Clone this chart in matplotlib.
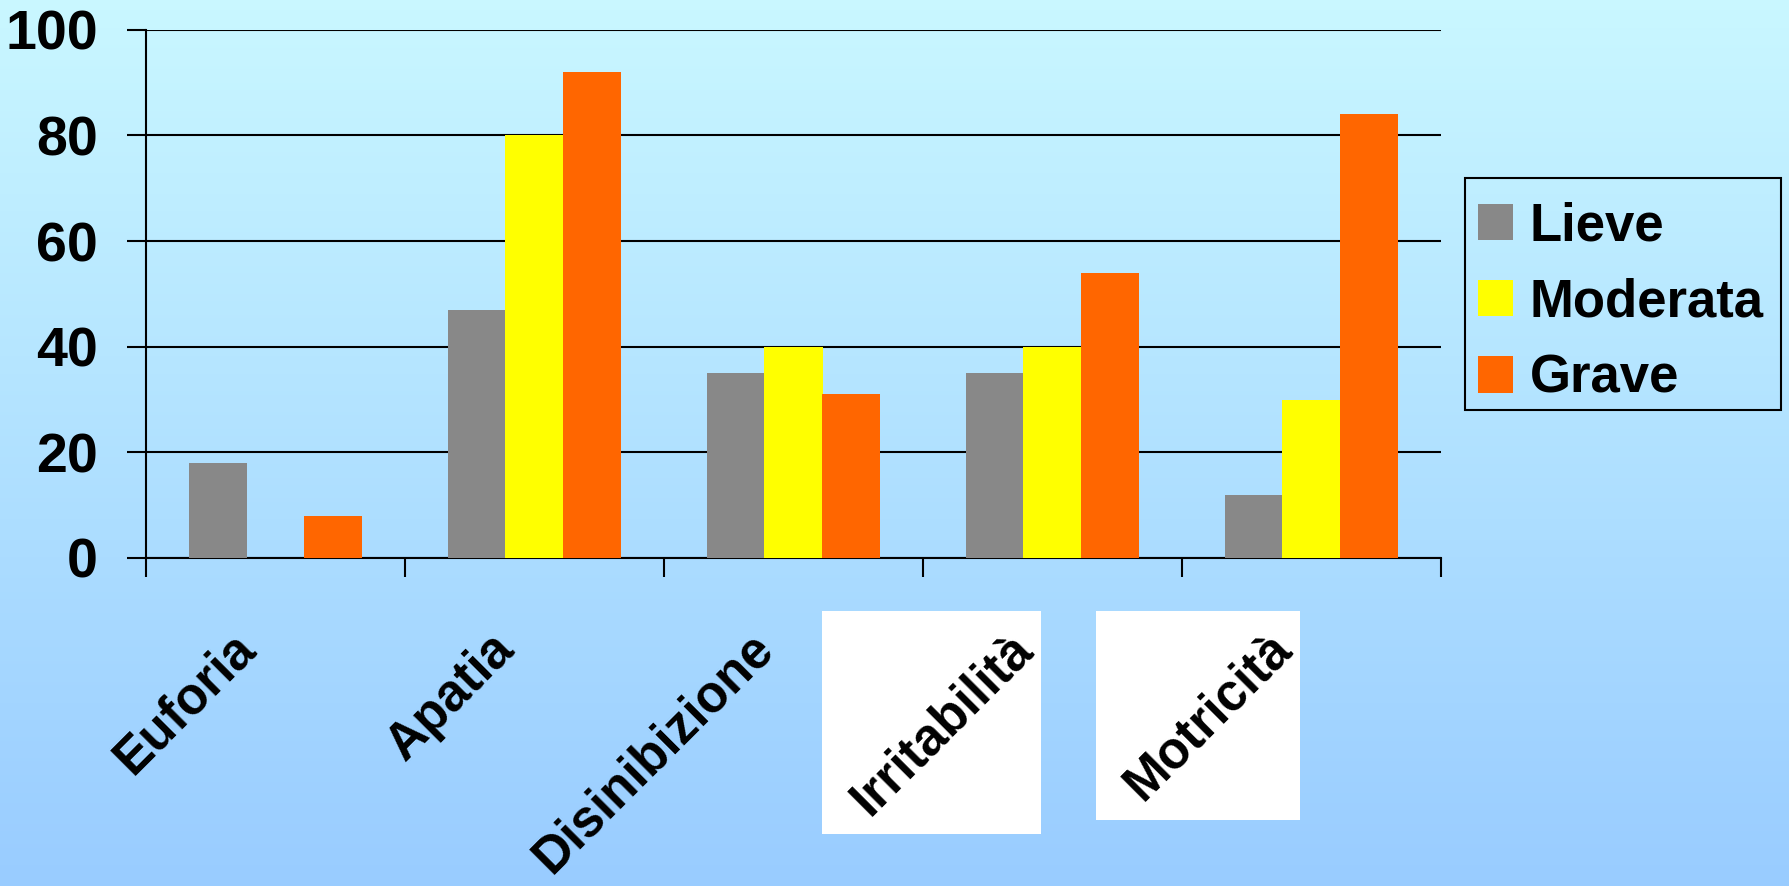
import matplotlib
matplotlib.use('Agg')
import matplotlib.pyplot as plt
from matplotlib.patches import Rectangle
import numpy as np

plt.rcParams['font.family'] = ['Liberation Sans', 'DejaVu Sans']
plt.rcParams['font.weight'] = 'bold'

# Behavioural symptoms by dementia severity (%)
categories = ['Euforia', 'Apatia', 'Disinibizione', 'Irritabilità', 'Motricità']
series_names = ['Lieve', 'Moderata', 'Grave']
lieve = [18, 47, 35, 35, 12]
moderata = [0, 80, 40, 40, 30]
grave = [8, 92, 31, 54, 84]
y_ticks = [0, 20, 40, 60, 80, 100]

colors = ['#888888', '#FFFF00', '#FF6600']

W, H = 1789, 886
fig = plt.figure(figsize=(W / 100, H / 100), dpi=100)

# vertical background gradient, light cyan on top to light blue at the bottom
bg = fig.add_axes([0, 0, 1, 1], zorder=-10)
top = np.array([0.79, 0.97, 1.0])
bottom = np.array([0.60, 0.80, 1.0])
t = np.linspace(0, 1, 256)[:, None]
grad = (top * (1 - t) + bottom * t)[:, None, :]
bg.imshow(grad, aspect='auto', extent=[0, 1, 0, 1])
bg.set_axis_off()

ax = fig.add_axes([146 / W, 1 - 558 / H, 1295 / W, 528.3 / H])
ax.set_facecolor('none')

x = np.arange(len(categories))
width = 0.224
for k, (vals, name) in enumerate(zip([lieve, moderata, grave], series_names)):
    ax.bar(x + (k - 1) * 0.222, vals, width, color=colors[k], label=name,
           zorder=3, linewidth=0)

ax.set_xlim(-0.5, len(categories) - 0.5)
ax.set_ylim(0, 100)
ax.set_yticks(y_ticks)
ax.set_yticklabels([str(v) for v in y_ticks], fontsize=40, fontweight='bold')
ax.tick_params(axis='y', direction='out', length=13.7, width=1.5, pad=21)
ax.yaxis.grid(True, color='black', linewidth=1.5, zorder=1)

# category separators as ticks, names drawn separately
ax.set_xticks(x)
ax.set_xticklabels([])
ax.tick_params(axis='x', which='major', length=0)
ax.set_xticks(np.arange(len(categories) + 1) - 0.5, minor=True)
ax.tick_params(axis='x', which='minor', direction='out', length=13.7, width=1.5)

for side in ['top', 'right']:
    ax.spines[side].set_visible(False)
ax.spines['left'].set_linewidth(1.5)
ax.spines['bottom'].set_linewidth(1.5)

# white panels behind two of the category names
for (x0, y0, x1, y1) in [(822, 611, 1041, 834), (1096, 611, 1300, 820)]:
    fig.add_artist(Rectangle((x0 / W, 1 - y1 / H), (x1 - x0) / W, (y1 - y0) / H,
                             transform=fig.transFigure, facecolor='white',
                             edgecolor='none', zorder=0))

for i, name in enumerate(categories):
    ax.text(i - 0.04, -0.125, name, transform=ax.get_xaxis_transform(),
            rotation=45, ha='right', va='top', fontsize=37, fontweight='bold',
            zorder=5)

# legend frame drawn by hand so the entries can sit a little lower inside it
fig.add_artist(Rectangle((1465 / W, 1 - 410 / H), 316 / W, 232 / H,
                         transform=fig.transFigure, facecolor='none',
                         edgecolor='black', linewidth=1.5, zorder=5))
leg = fig.legend(loc='upper left', bbox_to_anchor=(1465 / W, 1 - 188 / H),
                 borderaxespad=0, fontsize=38, frameon=False,
                 handlelength=0.66, handleheight=0.68, handletextpad=0.32,
                 labelspacing=0.5, borderpad=0.25)
for txt in leg.get_texts():
    txt.set_fontweight('bold')

fig.savefig('out.png', dpi=100)
